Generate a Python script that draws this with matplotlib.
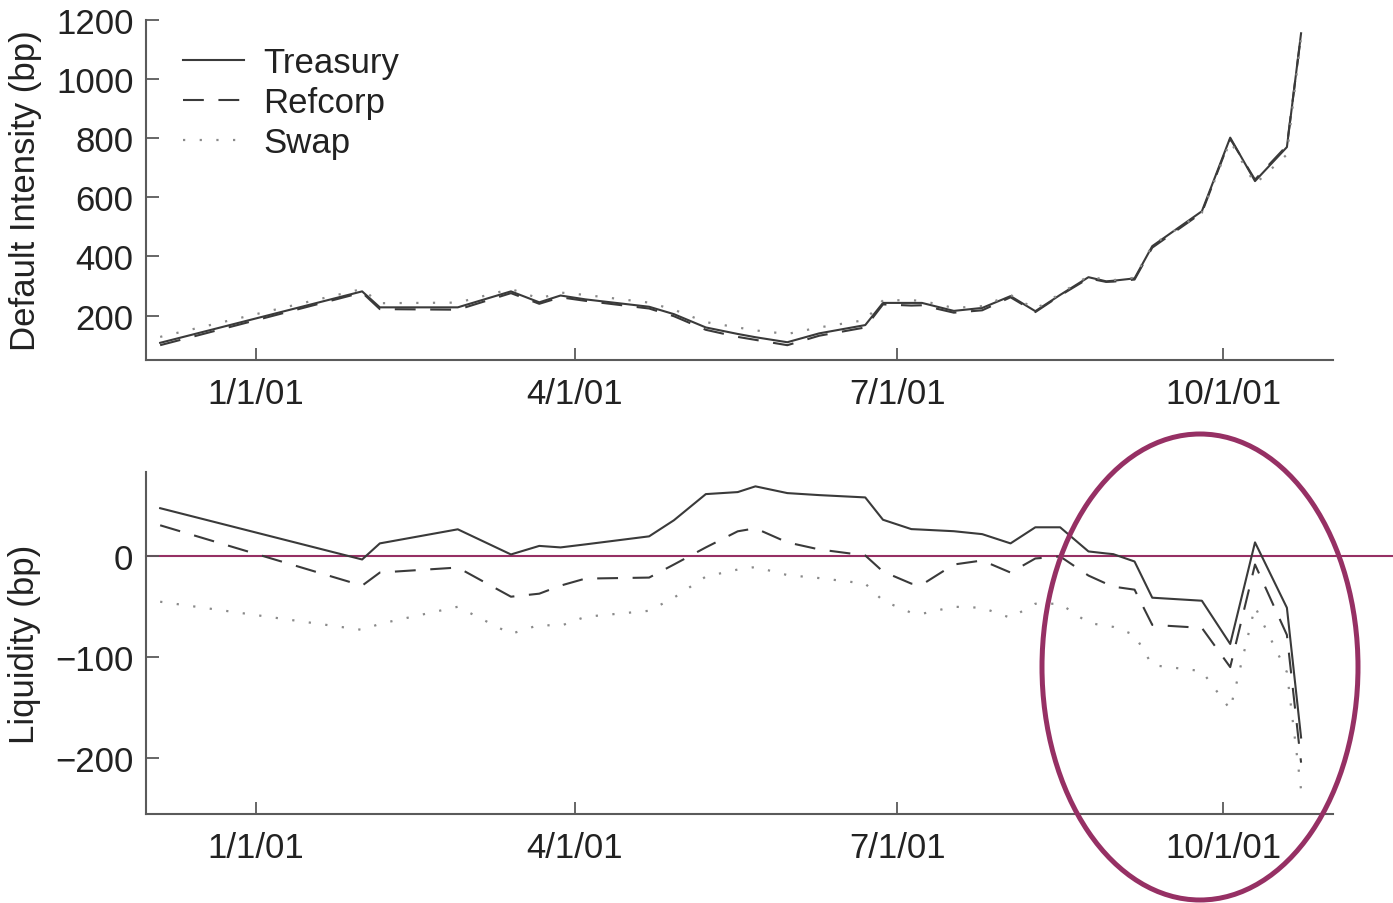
import matplotlib
matplotlib.use("Agg")
import matplotlib.pyplot as plt
from matplotlib.patches import Ellipse
import pandas as pd

plt.rcParams["font.family"] = ["Liberation Sans", "DejaVu Sans"]

# Observation dates
dates = [
    "2000-12-05", "2001-01-31", "2001-02-05", "2001-02-27", "2001-03-14",
    "2001-03-22", "2001-03-28", "2001-04-04", "2001-04-22", "2001-04-29",
    "2001-05-08", "2001-05-17", "2001-05-22", "2001-05-31", "2001-06-09",
    "2001-06-22", "2001-06-27", "2001-07-05", "2001-07-08", "2001-07-17",
    "2001-07-25", "2001-08-02", "2001-08-09", "2001-08-16", "2001-08-24",
    "2001-08-29", "2001-08-31", "2001-09-06", "2001-09-11", "2001-09-25",
    "2001-10-03", "2001-10-10", "2001-10-19", "2001-10-23",
]

# Default intensity (bp)
intensity_treasury = [108, 282, 228, 228, 282, 245, 268, 255, 230, 205,
                      160, 138, 127, 110, 140, 168, 243, 243, 243, 216,
                      226, 266, 215, 270, 330, 316, 318, 326, 435, 553,
                      802, 655, 770, 1155]
intensity_refcorp = [100, 278, 222, 220, 276, 240, 262, 250, 224, 198,
                     152, 128, 118, 100, 132, 160, 238, 234, 235, 210,
                     218, 262, 212, 268, 326, 314, 315, 322, 430, 548,
                     798, 660, 775, 1150]
intensity_swap = [128, 290, 242, 244, 290, 258, 278, 270, 244, 220,
                  178, 160, 150, 138, 160, 185, 252, 252, 250, 226,
                  232, 270, 222, 274, 334, 320, 320, 328, 438, 548,
                  790, 645, 745, 1140]

# Liquidity (bp)
liquidity_treasury = [48, -3, 13, 27, 2, 10.5, 9, 12, 20, 36,
                      62, 64, 69.7, 63, 61, 58.7, 36.5, 27.2, 26.7, 25.1,
                      22.2, 13, 29, 29, 5, 3, 2.3, -5, -41, -44,
                      -87, 14, -51, -180]
liquidity_refcorp = [31, -29, -16, -11, -40, -37, -29, -22, -21, -8,
                     9, 25, 28, 14, 7, 1, -15, -27, -28, -8,
                     -4, -16, -2, 0, -19, -27, -30, -33, -68, -71,
                     -110, -8, -78, -205]
liquidity_swap = [-45, -73, -67, -50, -77, -68, -69, -60, -54, -41,
                  -20, -13, -10.5, -18.5, -21.5, -27, -44, -56, -57, -50,
                  -51, -61, -47, -47, -66, -69, -70, -78, -108, -114,
                  -152, -50, -115, -232]

series_names = ["Treasury", "Refcorp", "Swap"]
tick_dates = ["2001-01-01", "2001-04-01", "2001-07-01", "2001-10-01"]
tick_labels = ["1/1/01", "4/1/01", "7/1/01", "10/1/01"]

x = pd.to_datetime(dates)
xt = pd.to_datetime(tick_dates)
xlim = pd.to_datetime(["2000-12-01", "2001-11-01"])

line_color = "#3a3a3a"
dot_color = "#8a8a8a"
accent = "#963064"
spine_color = "#5a5a5a"
text_color = "#222222"

styles = [
    dict(color=line_color, lw=1.5, ls="-"),
    dict(color=line_color, lw=1.5, ls=(0, (10, 7))),
    dict(color=dot_color, lw=1.6, ls=(0, (1, 6.5))),
]

fig = plt.figure(figsize=(13.93, 9.04), dpi=100)
ax1 = fig.add_axes([0.1048, 0.6007, 0.8521, 0.3761])
ax2 = fig.add_axes([0.1048, 0.0985, 0.8521, 0.3783])

for ys, st, name in zip([intensity_treasury, intensity_refcorp, intensity_swap],
                        styles, series_names):
    ax1.plot(x, ys, label=name, **st)

for ys, st in zip([liquidity_treasury, liquidity_refcorp, liquidity_swap], styles):
    ax2.plot(x, ys, **st)

# Zero reference line, carried out to the right edge of the figure
ax2.axhline(0, xmin=0, xmax=(1393 - 146) / (1333 - 146), color=accent,
            lw=1.5, clip_on=False, zorder=1)

ax1.set_ylim(50, 1200)
ax1.set_yticks([200, 400, 600, 800, 1000, 1200])
ax2.set_ylim(-256, 84)
ax2.set_yticks([-200, -100, 0])
ax2.set_yticklabels(["\u2212200", "\u2212100", "0"])

ax1.set_ylabel("Default Intensity (bp)", fontsize=25, color=text_color, labelpad=10)
ax2.set_ylabel("Liquidity (bp)", fontsize=25, color=text_color, labelpad=10)

for ax in (ax1, ax2):
    ax.set_xlim(xlim[0], xlim[1])
    ax.set_xticks(xt)
    ax.set_xticklabels(tick_labels)
    for side in ("top", "right"):
        ax.spines[side].set_visible(False)
    for side in ("left", "bottom"):
        ax.spines[side].set_color(spine_color)
        ax.spines[side].set_linewidth(1.5)
    ax.tick_params(direction="in", length=9, width=1.3, color=spine_color,
                   labelsize=25, labelcolor=text_color)
    ax.tick_params(axis="x", pad=12)
    ax.tick_params(axis="y", pad=9)

ax1.legend(loc="upper left", bbox_to_anchor=(0.011, 0.995), frameon=False,
           fontsize=25, handlelength=1.75, handletextpad=0.55,
           labelspacing=0.2, borderaxespad=0.3, labelcolor=text_color)

fig.add_artist(Ellipse((1200 / 1393, 1 - 668 / 904), 316 / 1393, 466 / 904,
                       transform=fig.transFigure, fill=False,
                       ec=accent, lw=3.6))

fig.savefig("out.png", dpi=100)
